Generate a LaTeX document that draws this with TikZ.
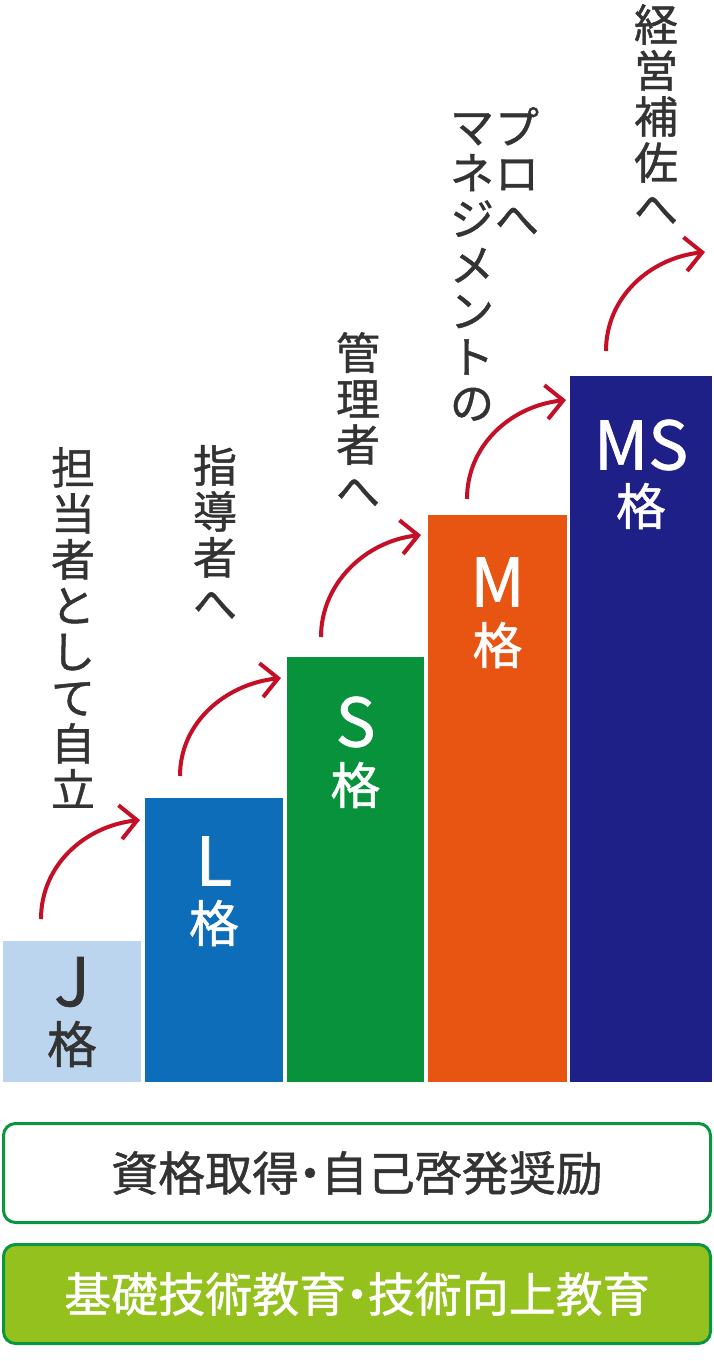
\documentclass[tikz,border=0pt]{standalone}
\usepackage{fontspec}
\setmainfont{Noto Sans CJK JP}[FakeBold=1]
\usetikzlibrary{arrows.meta}
\definecolor{jcol}{HTML}{BCD5EE}
\definecolor{lcol}{HTML}{0E6DB8}
\definecolor{scol}{HTML}{08923C}
\definecolor{mcol}{HTML}{E85513}
\definecolor{mscol}{HTML}{1E2088}
\definecolor{txtgray}{HTML}{333333}
\definecolor{arrred}{HTML}{C40F27}
\definecolor{boxgreen}{HTML}{0A9640}
\definecolor{lime}{HTML}{95C11F}
\begin{document}
\begin{tikzpicture}[x=1pt,y=-1pt,
  bar/.style={anchor=south west, inner sep=0pt, outer sep=0pt, draw=none},
  letterlab/.style={inner sep=0pt, text=white, font=\fontsize{67}{70}\selectfont},
  kakulab/.style={inner sep=0pt, text=white, font=\fontsize{50}{52}\selectfont},
  vtext/.style={anchor=north, align=center, inner sep=0pt, text=txtgray, font=\fontsize{44}{46}\selectfont},
  uparrow/.style={draw=arrred, line width=4pt, -{Straight Barb[length=17pt 0, width=34pt 0]}},
  bandbox/.style={draw=boxgreen, line width=3pt, rounded corners=12pt, minimum width=707pt, minimum height=99pt, inner sep=0pt, font=\fontsize{47}{50}\selectfont}
]
\useasboundingbox (0,0) rectangle (714,1361);
\fill[white] (0,0) rectangle (714,1361);

% bars
\node[bar, fill=jcol,  minimum width=138pt, minimum height=141pt] (J)  at (3,1082) {};
\node[bar, fill=lcol,  minimum width=138pt, minimum height=284pt] (L)  at (145,1082) {};
\node[bar, fill=scol,  minimum width=137pt, minimum height=425pt] (S)  at (287,1082) {};
\node[bar, fill=mcol,  minimum width=139pt, minimum height=567pt] (M)  at (428,1082) {};
\node[bar, fill=mscol, minimum width=142pt, minimum height=706pt] (MS) at (570,1082) {};

% bar labels
\node[letterlab, text=txtgray] (Jl) at (72,982) {J};
\node[kakulab, text=txtgray]   (Jk) at (72,1044) {格};
\node[letterlab] (Ll) at (214,861) {L};
\node[kakulab]   (Lk) at (214,923) {格};
\node[letterlab] (Sl) at (355.5,722) {S};
\node[kakulab]   (Sk) at (355.5,785) {格};
\node[letterlab] (Ml) at (497.5,582) {M};
\node[kakulab]   (Mk) at (497.5,645) {格};
\node[letterlab] (MSl) at (641,445) {MS};
\node[kakulab]   (MSk) at (641,506) {格};

% vertical texts
\node[vtext] (t1)  at (73,447)  {担\\当\\者\\と\\し\\て\\自\\立};
\node[vtext] (t2)  at (215,445) {指\\導\\者\\へ};
\node[vtext] (t3)  at (358,332) {管\\理\\者\\へ};
\node[vtext] (t4a) at (517,107) {プ\\ロ\\へ};
\node[vtext] (t4b) at (472,113) {マ\\ネ\\ジ\\メ\\ン\\ト\\の};
\node[vtext] (t5)  at (656,4)   {経\\営\\補\\佐\\へ};

% arrow end points
\coordinate (a1s) at (41,919);  \coordinate (a1e) at (140,820);
\coordinate (a2s) at (180,776); \coordinate (a2e) at (281,678);
\coordinate (a3s) at (321,637); \coordinate (a3e) at (421,535);
\coordinate (a4s) at (467,499); \coordinate (a4e) at (566,400);
\coordinate (a5s) at (606,351); \coordinate (a5e) at (705,252);

\foreach \i in {1,...,5}{
  \draw[uparrow] (a\i s) .. controls +(0,-54) and +(-55,6) .. (a\i e);
}

% bottom boxes
\node[bandbox, fill=white, text=txtgray] (b1) at (357,1173) {資格取得\kern-.27em・\kern-.27em 自己啓発奨励};
\node[bandbox, fill=lime, text=white] (b2) at (357,1294) {基礎技術教育\kern-.27em・\kern-.27em 技術向上教育};
\end{tikzpicture}
\end{document}
